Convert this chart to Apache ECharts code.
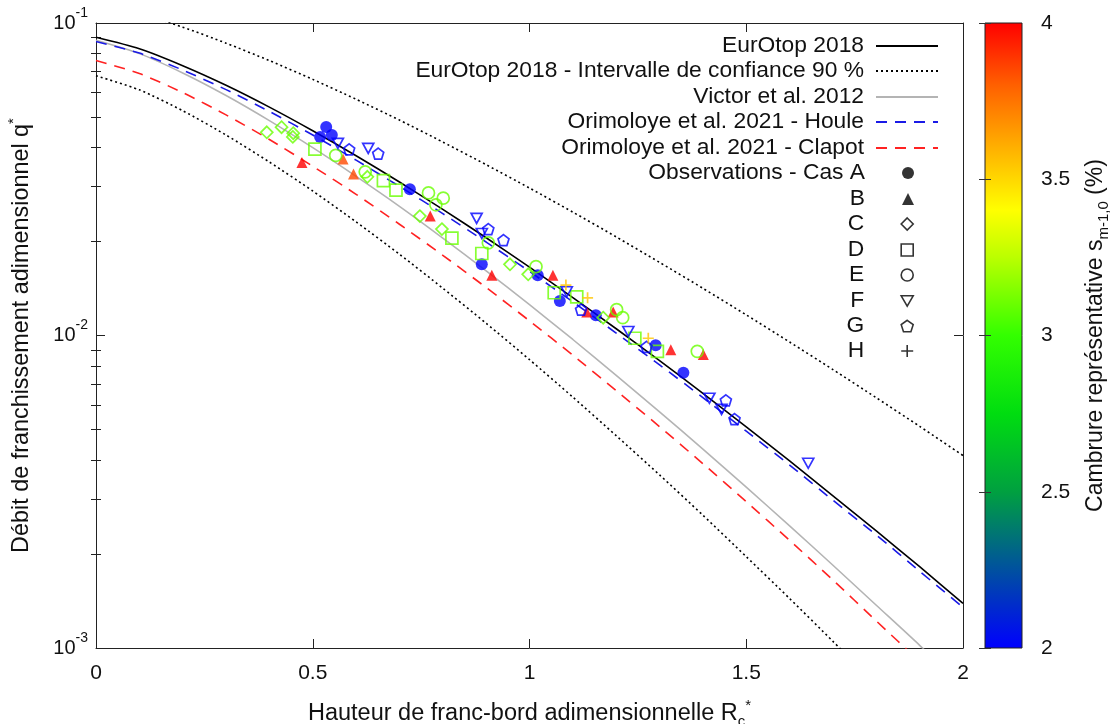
<!DOCTYPE html>
<html>
<head>
<meta charset="utf-8">
<script src="https://cdn.jsdelivr.net/npm/echarts@6/dist/echarts.min.js"></script>
<style>html,body{margin:0;padding:0;background:#fff}#c{width:1110px;height:724px}</style>
</head>
<body>
<div id="c"></div>
<script>
// ---------- DATA ----------
const rcGrid = [0,0.1,0.2,0.3,0.4,0.5,0.6,0.7,0.8,0.9,1.0,1.1,1.2,1.3,1.4,1.5,1.6,1.7,1.8,1.9,2.0];
const eurotop = [0.0900,0.0827,0.0730,0.0632,0.0538,0.0452,0.0376,0.0310,0.02534,0.02055,0.01654,0.01322,0.01051,0.00831,0.00653,0.00510,0.00397,0.00307,0.00237,0.00182,0.00139];
const eurotopUpper = [0.116,0.1075,0.0970,0.0862,0.0758,0.0660,0.0570,0.0489,0.0416,0.0352,0.02964,0.02482,0.02068,0.01714,0.01416,0.01164,0.00953,0.00778,0.00632,0.00512,0.00413];
const eurotopLower = [0.0678,0.0611,0.0524,0.0438,0.0359,0.0290,0.0231,0.0182,0.01417,0.01094,0.00837,0.00635,0.00478,0.00358,0.00266,0.00196,0.00144,0.00105,0.00076,0.000548,0.000393];
const victor2012 = [0.0880,0.0798,0.0692,0.0586,0.0487,0.0399,0.0323,0.0259,0.0205,0.01610,0.01255,0.00971,0.00745,0.00570,0.00433,0.00327,0.00246,0.00184,0.00137,0.00102,0.00075];
const orimoloyeHoule = [0.0872,0.0801,0.0707,0.0612,0.0521,0.0438,0.0364,0.0300,0.02455,0.01991,0.01603,0.01281,0.01018,0.00805,0.00633,0.00494,0.00385,0.00297,0.00230,0.00176,0.00135];
const orimoloyeClapot = [0.0759,0.0689,0.0599,0.0508,0.0424,0.0348,0.0283,0.0227,0.01806,0.01424,0.01114,0.00865,0.00666,0.00511,0.00389,0.00294,0.00221,0.00165,0.00122,0.000905,0.000665];

// observations: [Rc*, q*, steepness s_m-1,0 (%)]
const casA = [[0.531,0.0465,2.0],[0.544,0.0438,2.0],[0.517,0.0432,2.0],[0.724,0.0294,2.0],[0.890,0.0169,2.0],[1.019,0.0156,2.0],[1.070,0.0129,2.0],[1.153,0.0116,2.0],[1.291,0.0093,2.0],[1.355,0.0076,2.0]];
const casB = [[0.475,0.0358,4.0],[0.570,0.0367,3.85],[0.594,0.0329,3.85],[0.771,0.0241,4.0],[0.913,0.0156,4.0],[1.054,0.0156,4.0],[1.132,0.0119,4.0],[1.193,0.0119,4.0],[1.326,0.0090,4.0],[1.401,0.0087,4.0]];
const casC = [[0.394,0.0447,3.1],[0.428,0.0464,3.1],[0.455,0.0444,3.1],[0.454,0.0432,3.1],[0.626,0.0322,3.1],[0.747,0.0241,3.1],[0.798,0.0219,3.1],[0.955,0.0169,3.1],[0.997,0.0157,3.1],[1.170,0.0114,3.1]];
const casD = [[0.505,0.0395,3.1],[0.663,0.0313,3.1],[0.692,0.0292,3.1],[0.821,0.0205,3.1],[0.890,0.0183,3.1],[1.057,0.0137,3.1],[1.109,0.0133,3.1],[1.243,0.0098,3.1],[1.295,0.0089,3.1]];
const casE = [[0.553,0.0377,3.1],[0.621,0.0334,3.1],[0.767,0.0286,3.1],[0.801,0.0275,3.1],[0.784,0.0262,3.1],[0.905,0.0198,3.1],[1.015,0.0166,3.1],[1.201,0.0121,3.1],[1.215,0.0114,3.1],[1.387,0.0089,3.1]];
const casF = [[0.558,0.0412,2.0],[0.628,0.0397,2.0],[0.878,0.0237,2.0],[0.890,0.0212,2.0],[1.086,0.0138,2.0],[1.228,0.0103,2.0],[1.415,0.0063,2.0],[1.443,0.0058,2.0],[1.643,0.0039,2.0]];
const casG = [[0.584,0.0394,2.0],[0.651,0.0382,2.0],[0.905,0.0219,2.0],[0.940,0.0202,2.0],[1.119,0.0121,2.0],[1.270,0.0092,2.0],[1.453,0.0062,2.0],[1.473,0.0054,2.0]];
const casH = [[1.084,0.0145,3.55],[1.134,0.0132,3.55],[1.274,0.0098,3.55]];

const xTicks = [0,0.5,1,1.5,2];
const yMajorTicks = [0.001,0.01,0.1];
const yMinorTicks = [0.002,0.003,0.004,0.005,0.006,0.007,0.008,0.009,0.02,0.03,0.04,0.05,0.06,0.07,0.08,0.09];
const cbTicks = [2,2.5,3,3.5,4];

// ---------- STYLE ----------
const FONT = '"Liberation Sans", Arial, Helvetica, sans-serif';
const TXT = '#111';
const cbStops = [[2.0,'#0000ff'],[2.25,'#0050a0'],[2.5,'#00a040'],[2.75,'#00dd10'],[3.0,'#33ff00'],[3.25,'#bbff00'],[3.4,'#ffff00'],[3.6,'#ffb000'],[3.8,'#ff6000'],[4.0,'#ff0000']];
const cbMin = 2, cbMax = 4;
function rgb(h){return [parseInt(h.slice(1,3),16),parseInt(h.slice(3,5),16),parseInt(h.slice(5,7),16)];}
function steepColor(v){
  if (v <= cbStops[0][0]) return cbStops[0][1];
  for (let i=1;i<cbStops.length;i++){
    if (v <= cbStops[i][0]){
      const a=cbStops[i-1], b=cbStops[i], t=(v-a[0])/(b[0]-a[0]);
      const ca=rgb(a[1]), cb=rgb(b[1]);
      const c=ca.map((x,k)=>Math.round(x+(cb[k]-x)*t));
      return 'rgb('+c.join(',')+')';
    }
  }
  return cbStops[cbStops.length-1][1];
}
const gradient = {type:'linear',x:0,y:0,x2:0,y2:1,
  colorStops: cbStops.map(s=>({offset:(cbMax-s[0])/(cbMax-cbMin),color:s[1]})).reverse()};

const chart = echarts.init(document.getElementById('c'), null, {renderer:'canvas'});

function curve(name, ys, color, width, type){
  return {type:'line', name, data: rcGrid.map((x,i)=>[x, ys[i]]), xAxisIndex:0, yAxisIndex:0,
    symbol:'none', showSymbol:false, smooth:0.25, clip:true, silent:true,
    color, itemStyle:{color}, lineStyle:{color, width, type}, z:2};
}
function obs(name, pts, symbol, size, filled){
  return {type:'scatter', name, symbol, symbolSize:size,
    xAxisIndex:0, yAxisIndex:0, z:5, color:'#000',
    data: pts.map(p=>({value:[p[0],p[1]], itemStyle: filled ? {color:steepColor(p[2])}
      : {color:'rgba(0,0,0,0)', borderColor:steepColor(p[2]), borderWidth:1.7}}))};
}
const pentagon = 'path://M50,0 L97.55,34.55 L79.39,90.45 L20.61,90.45 L2.45,34.55 Z';
const downTriangle = 'path://M0,0 L100,0 L50,86.6 Z';
const plus = 'path://M50,0 L50,100 M0,50 L100,50';

const series = [
  curve('EurOtop 2018 - Intervalle de confiance 90 %', eurotopUpper, '#000', 1.6, [2,3]),
  curve('EurOtop 2018 - Intervalle de confiance 90 %', eurotopLower, '#000', 1.6, [2,3]),
  curve('Victor et al. 2012', victor2012, '#b4b4b4', 1.6, 'solid'),
  curve('Orimoloye et al. 2021 - Clapot', orimoloyeClapot, '#ff2222', 1.6, [11,8]),
  curve('Orimoloye et al. 2021 - Houle', orimoloyeHoule, '#1a1ae6', 1.6, [11,8]),
  curve('EurOtop 2018', eurotop, '#000', 1.6, 'solid'),
  obs('Observations - Cas A', casA, 'circle', 12, true),
  obs('B', casB, 'triangle', 11, true),
  obs('C', casC, 'diamond', 12, false),
  obs('D', casD, 'rect', 12, false),
  obs('E', casE, 'circle', 12, false),
  obs('F', casF, downTriangle, [11,10], false),
  obs('G', casG, pentagon, 11, false),
  obs('H', casH, plus, 11, false)
];
series.push({type:'scatter', xAxisIndex:1, yAxisIndex:4, data:[], silent:true});

const lineLegendNames = ['EurOtop 2018','EurOtop 2018 - Intervalle de confiance 90 %','Victor et al. 2012',
  'Orimoloye et al. 2021 - Houle','Orimoloye et al. 2021 - Clapot'];
const markLegendNames = ['Observations - Cas A','B','C','D','E','F','G','H'];
const hollowIcon = {color:'rgba(0,0,0,0)',borderColor:'#000',borderWidth:1.6};
const markLegendStyle = {'Observations - Cas A':{color:'#000'}, 'B':{color:'#000'},
  'C':hollowIcon,'D':hollowIcon,'E':hollowIcon,'F':hollowIcon,'G':hollowIcon,'H':hollowIcon};
const legendText = {fontSize:22.8, fontFamily:FONT, color:TXT, lineHeight:24};
const legends = [];
lineLegendNames.forEach((n,i)=>{
  legends.push({data:[n], orient:'vertical', align:'right', right:171, top:Math.round(46 + 25.45*i - 12),
    itemWidth:62, itemHeight:12, padding:0, selectedMode:false, itemStyle:{opacity:0},
    textStyle:Object.assign({padding:[0,7,0,0]}, legendText)});
});
markLegendNames.forEach((n,j)=>{
  const i = j + lineLegendNames.length;
  legends.push({data:[n], orient:'vertical', align:'right', right:196, top:Math.round(46 + 25.45*i - 12),
    itemWidth:12, itemHeight:12, padding:0, selectedMode:false, itemStyle:markLegendStyle[n],
    textStyle:Object.assign({padding:[0,32,0,0]}, legendText)});
});

const axisLineStyle = {color:'#222', width:1};
const supRich = {
  b:{fontSize:20, fontFamily:FONT, color:TXT},
  s:{fontSize:14, fontFamily:FONT, color:TXT, padding:[0,0,20,0]}
};

const option = {
  animation:false,
  backgroundColor:'#fff',
  grid:[
    {left:96, top:23, width:867, height:625, show:false, containLabel:false, outerBoundsMode:'none'},
    {left:985, top:23, width:37, height:625, show:true, backgroundColor:gradient, borderColor:'#222', borderWidth:1,
      containLabel:false, outerBoundsMode:'none'}
  ],
  legend: legends,
  xAxis:[
    {type:'value', gridIndex:0, min:0, max:2, interval:0.5, position:'bottom',
      axisLine:{show:true, onZero:false, lineStyle:axisLineStyle},
      axisTick:{show:true, inside:true, length:9, lineStyle:axisLineStyle},
      axisLabel:{fontSize:21, fontFamily:FONT, color:TXT, margin:15, formatter: v => String(v)},
      splitLine:{show:false},
      name:'Hauteur de franc-bord adimensionnelle R{sub|c}{sup|*}', nameLocation:'middle', nameGap:50,
      nameTextStyle:{fontSize:23.5, fontFamily:FONT, color:TXT, verticalAlign:'top',
        rich:{sub:{fontSize:15, fontFamily:FONT, color:TXT, padding:[16,0,0,0]},
              sup:{fontSize:15, fontFamily:FONT, color:TXT, padding:[0,0,16,0]}}}},
    {type:'value', gridIndex:1, min:0, max:1, show:false},
    {type:'value', gridIndex:0, min:0, max:2, interval:0.5, position:'top',
      axisLine:{show:true, onZero:false, lineStyle:axisLineStyle},
      axisTick:{show:true, inside:true, length:9, lineStyle:axisLineStyle},
      axisLabel:{show:false}, splitLine:{show:false}}
  ],
  yAxis:[
    {type:'log', logBase:10, gridIndex:0, min:0.001, max:0.1, position:'left',
      axisLine:{show:true, onZero:false, lineStyle:axisLineStyle},
      axisTick:{show:true, inside:true, length:9, lineStyle:axisLineStyle, customValues:yMajorTicks},
      axisLabel:{customValues:yMajorTicks, margin:8,
        formatter: v => '{b|10}{s|' + Math.round(Math.log10(v)) + '}', rich:supRich},
      splitLine:{show:false}, minorTick:{show:false},
      name:'Débit de franchissement adimensionnel q{sup|*}', nameLocation:'middle', nameGap:59,
      nameTextStyle:{fontSize:23.4, fontFamily:FONT, color:TXT,
        rich:{sup:{fontSize:15, fontFamily:FONT, color:TXT, padding:[0,0,16,0]}}}},
    {type:'log', logBase:10, gridIndex:0, min:0.001, max:0.1, position:'left',
      axisLine:{show:false}, axisLabel:{show:false}, splitLine:{show:false},
      axisTick:{show:true, inside:true, length:5, lineStyle:axisLineStyle, customValues:yMinorTicks}},
    {type:'log', logBase:10, gridIndex:0, min:0.001, max:0.1, position:'right',
      axisLine:{show:true, onZero:false, lineStyle:axisLineStyle}, axisLabel:{show:false}, splitLine:{show:false},
      axisTick:{show:true, inside:true, length:9, lineStyle:axisLineStyle, customValues:yMajorTicks}},
    {type:'log', logBase:10, gridIndex:0, min:0.001, max:0.1, position:'right',
      axisLine:{show:false}, axisLabel:{show:false}, splitLine:{show:false},
      axisTick:{show:true, inside:true, length:5, lineStyle:axisLineStyle, customValues:yMinorTicks}},
    {type:'value', gridIndex:1, min:cbMin, max:cbMax, interval:0.5, position:'right',
      axisLine:{show:false}, splitLine:{show:false},
      axisTick:{show:true, inside:true, length:6, lineStyle:{color:'#333', width:1}},
      axisLabel:{fontSize:21, fontFamily:FONT, color:TXT, margin:19, formatter: v => String(v)},
      name:'Cambrure représentative s{sub|m-1,0} (%)', nameLocation:'middle', nameGap:59, nameRotate:90,
      nameTextStyle:{fontSize:23, fontFamily:FONT, color:TXT,
        rich:{sub:{fontSize:15, fontFamily:FONT, color:TXT, padding:[15,0,0,0]}}}},
    {type:'value', gridIndex:1, min:cbMin, max:cbMax, interval:0.5, position:'left',
      axisLine:{show:false}, splitLine:{show:false}, axisLabel:{show:false},
      axisTick:{show:true, inside:true, length:6, lineStyle:{color:'#333', width:1}}}
  ],
  series
};
chart.setOption(option);
</script>
</body>
</html>
